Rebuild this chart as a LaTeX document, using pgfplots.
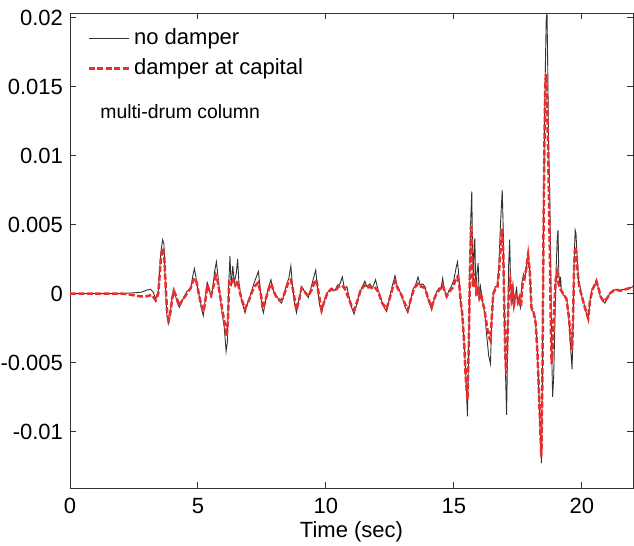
\documentclass[border=0pt]{standalone}
\usepackage{fontspec}
\setmainfont{Liberation Sans}
\usepackage{pgfplots}
\pgfplotsset{compat=1.18}
\usetikzlibrary{calc}

\definecolor{mred}{RGB}{235,45,45}

% no damper
\pgfplotstableread{
t v
0 0
1.0 0
2.0 0
2.5 0.00005
2.8 0.0001
3.0 0.00025
3.15 0.0003
3.25 0.0001
3.35 -0.0004
3.45 0.0002
3.55 0.0030
3.62 0.0039
3.67 0.0036
3.72 0.0010
3.78 -0.0015
3.84 -0.0022
3.9 -0.0018
3.97 -0.0005
4.04 0.0003
4.1 0.0000
4.18 -0.0006
4.27 -0.0010
4.35 -0.0006
4.45 -0.0003
4.55 0.0001
4.65 0.0003
4.72 0.0004
4.8 0.0013
4.86 0.0018
4.92 0.0012
5.0 0.0002
5.08 -0.0004
5.15 -0.0012
5.21 -0.0016
5.28 -0.0005
5.36 0.0008
5.42 0.0005
5.5 -0.0002
5.58 0.0004
5.65 0.0016
5.72 0.0023
5.78 0.0013
5.86 -0.0001
5.95 -0.0015
6.03 -0.0025
6.1 -0.0042
6.15 -0.0035
6.2 0.0005
6.25 0.0027
6.3 0.0005
6.36 0.0020
6.42 0.0008
6.5 0.0015
6.55 0.0025
6.6 0.0008
6.7 -0.0005
6.78 -0.0010
6.84 -0.0014
6.92 -0.0008
7.0 -0.0004
7.1 0.0002
7.2 0.0008
7.28 0.0012
7.36 0.0016
7.42 0.0006
7.5 -0.0010
7.56 -0.0014
7.64 -0.0005
7.75 0.0004
7.85 0.0010
7.93 0.0003
8.02 -0.0001
8.12 -0.0003
8.2 -0.0006
8.27 -0.0007
8.38 0.0001
8.47 0.0007
8.55 0.0011
8.63 0.0020
8.7 0.0004
8.78 -0.0008
8.85 -0.0014
8.93 -0.0006
9.05 0.0005
9.15 0.0002
9.25 -0.0001
9.31 -0.0003
9.4 0.0003
9.5 0.0010
9.6 0.0017
9.66 0.0006
9.75 -0.0008
9.83 -0.0014
9.92 -0.0007
10.03 0.0000
10.12 0.0002
10.22 0.0004
10.35 0.0002
10.45 0.0006
10.55 0.0007
10.64 0.0012
10.72 0.0004
10.82 0.0005
10.92 -0.0004
11.0 -0.0010
11.1 -0.0015
11.2 -0.0008
11.3 0.0000
11.4 0.0004
11.52 0.0009
11.6 0.0005
11.72 0.0007
11.82 0.0004
11.94 0.0010
12.02 0.0004
12.12 -0.0002
12.24 -0.0009
12.37 -0.0013
12.48 -0.0004
12.6 0.0006
12.7 0.0013
12.78 0.0006
12.9 0.0001
13.0 -0.0004
13.1 -0.0010
13.2 -0.0014
13.3 -0.0006
13.4 0.0003
13.5 0.0006
13.6 0.0012
13.68 0.0006
13.78 0.0007
13.87 0.0005
13.96 -0.0002
14.05 -0.0007
14.13 -0.0012
14.22 -0.0005
14.32 0.0001
14.42 0.0004
14.5 0.0003
14.56 0.0011
14.63 0.0003
14.71 -0.0003
14.8 0.0002
14.9 0.0005
15.0 0.0010
15.08 0.0018
15.14 0.0023
15.2 0.0012
15.27 -0.0008
15.32 -0.0016
15.38 -0.0030
15.43 -0.0046
15.49 -0.0070
15.53 -0.0089
15.57 -0.0050
15.62 0.0010
15.66 0.0055
15.7 0.0074
15.73 0.0030
15.76 0.0005
15.79 0.0035
15.82 0.0040
15.86 -0.0002
15.9 0.0015
15.95 0.0022
15.99 -0.0005
16.04 0.0005
16.1 -0.0003
16.16 -0.0010
16.21 -0.0015
16.28 -0.0030
16.36 -0.0045
16.43 -0.0051
16.48 -0.0020
16.54 0.0001
16.62 0.0005
16.7 0.0005
16.76 0.0020
16.82 0.0050
16.89 0.0075
16.93 0.0045
16.97 -0.0009
17.02 -0.0060
17.06 -0.0088
17.1 -0.0040
17.14 0.0020
17.18 0.0039
17.22 0.0005
17.27 -0.0008
17.32 0.0002
17.36 -0.0010
17.4 -0.0003
17.45 0.0005
17.5 -0.0008
17.55 -0.0005
17.6 -0.0010
17.66 0.0008
17.72 0.0014
17.78 0.0010
17.84 0.0020
17.9 0.0029
17.96 0.0018
18.03 -0.0012
18.1 -0.0013
18.16 -0.0016
18.23 -0.0029
18.28 -0.0050
18.33 -0.0077
18.38 -0.0105
18.42 -0.0123
18.46 -0.0060
18.5 0.0044
18.54 0.0120
18.58 0.0170
18.61 0.0200
18.64 0.0203
18.67 0.0160
18.7 0.0110
18.75 0.0068
18.79 0.0010
18.83 -0.0050
18.86 -0.0075
18.9 -0.0060
18.95 -0.0020
19.0 0.0020
19.04 0.0040
19.07 0.0046
19.1 0.0015
19.14 0.0005
19.17 0.0012
19.2 0.0002
19.27 -0.0001
19.35 -0.0002
19.42 -0.0005
19.5 -0.0020
19.57 -0.0042
19.62 -0.0055
19.66 -0.0020
19.7 0.0025
19.74 0.0046
19.77 0.0044
19.82 0.0025
19.88 0.0008
19.93 0.0005
20.0 -0.0002
20.05 -0.0005
20.12 -0.0010
20.2 -0.0016
20.25 -0.0019
20.32 -0.0005
20.4 0.0003
20.5 0.0006
20.57 0.0010
20.64 0.0004
20.72 -0.0002
20.8 -0.0005
20.9 -0.0007
21.0 -0.0003
21.1 0.0000
21.22 0.0002
21.35 0.0003
21.5 0.0002
21.6 0.0003
21.75 0.0003
21.88 0.0004
22.0 0.0005
}\nodamper

% damper at capital
\pgfplotstableread{
t v
0 0
2.0 0
2.4 -0.0001
2.7 -0.0002
3.0 -0.0002
3.2 -0.0001
3.35 -0.0005
3.45 0.0000
3.55 0.0025
3.62 0.0033
3.68 0.0028
3.74 0.0005
3.8 -0.0015
3.86 -0.0019
3.92 -0.0014
4.0 -0.0003
4.06 0.0002
4.15 -0.0002
4.27 -0.0009
4.38 -0.0005
4.5 -0.0002
4.6 0.0001
4.72 0.0004
4.8 0.0009
4.88 0.0011
4.95 0.0008
5.05 -0.0002
5.15 -0.0010
5.22 -0.0013
5.3 -0.0004
5.36 0.0006
5.45 0.0002
5.52 -0.0001
5.6 0.0005
5.7 0.0013
5.76 0.0010
5.86 -0.0001
5.95 -0.0012
6.03 -0.0020
6.12 -0.0031
6.17 -0.0020
6.22 0.0008
6.3 0.0006
6.38 0.0010
6.46 0.0006
6.55 0.0009
6.62 0.0002
6.72 -0.0005
6.84 -0.0011
6.95 -0.0007
7.05 -0.0002
7.15 0.0003
7.25 0.0006
7.36 0.0008
7.45 0.0000
7.55 -0.0011
7.65 -0.0004
7.78 0.0004
7.87 0.0007
7.95 0.0002
8.05 -0.0002
8.2 -0.0005
8.3 -0.0004
8.42 0.0002
8.53 0.0008
8.63 0.0010
8.72 0.0002
8.85 -0.0012
8.95 -0.0005
9.05 0.0004
9.18 0.0001
9.31 -0.0002
9.45 0.0003
9.55 0.0008
9.62 0.0010
9.7 0.0002
9.83 -0.0012
9.95 -0.0005
10.05 0.0000
10.2 0.0003
10.35 0.0002
10.5 0.0005
10.64 0.0006
10.75 0.0003
10.88 -0.0003
11.0 -0.0009
11.1 -0.0012
11.22 -0.0006
11.35 0.0002
11.5 0.0006
11.6 0.0004
11.72 0.0005
11.85 0.0003
11.94 0.0004
12.05 0.0001
12.2 -0.0007
12.37 -0.0011
12.5 -0.0003
12.62 0.0005
12.7 0.0009
12.8 0.0004
12.95 -0.0001
13.1 -0.0008
13.2 -0.0012
13.32 -0.0004
13.45 0.0004
13.6 0.0007
13.72 0.0005
13.87 0.0004
14.0 -0.0004
14.13 -0.0010
14.25 -0.0003
14.35 0.0001
14.45 0.0003
14.56 0.0006
14.64 0.0002
14.72 -0.0002
14.85 0.0002
14.95 0.0004
15.05 0.0009
15.14 0.0012
15.2 0.0008
15.27 -0.0006
15.33 -0.0015
15.4 -0.0035
15.46 -0.0060
15.53 -0.0077
15.58 -0.0040
15.62 0.0010
15.67 0.0049
15.7 0.0040
15.74 0.0005
15.78 0.0015
15.82 0.0008
15.86 0.0010
15.9 -0.0002
15.95 0.0005
16.0 -0.0003
16.06 0.0000
16.12 -0.0006
16.2 -0.0012
16.3 -0.0025
16.38 -0.0032
16.43 -0.0034
16.48 -0.0018
16.54 0.0000
16.62 0.0003
16.7 0.0004
16.78 0.0020
16.85 0.0040
16.89 0.0047
16.93 0.0030
16.97 -0.0010
17.01 -0.0045
17.05 -0.0058
17.1 -0.0030
17.15 0.0005
17.2 0.0010
17.25 -0.0003
17.3 0.0003
17.35 -0.0008
17.42 -0.0002
17.5 -0.0006
17.56 -0.0003
17.62 -0.0010
17.68 0.0006
17.75 0.0012
17.82 0.0017
17.9 0.0028
17.97 0.0015
18.03 -0.0010
18.12 -0.0014
18.2 -0.0022
18.27 -0.0045
18.33 -0.0075
18.38 -0.0100
18.42 -0.0118
18.46 -0.0060
18.5 0.0040
18.54 0.0110
18.57 0.0150
18.6 0.0159
18.63 0.0150
18.66 0.0125
18.7 0.0085
18.75 0.0030
18.79 -0.0025
18.82 -0.0051
18.86 -0.0040
18.92 -0.0010
18.98 0.0010
19.03 0.0015
19.08 0.0008
19.14 0.0004
19.2 0.0002
19.3 -0.0001
19.4 -0.0004
19.5 -0.0018
19.57 -0.0035
19.62 -0.0041
19.66 -0.0015
19.7 0.0020
19.74 0.0034
19.78 0.0030
19.84 0.0015
19.9 0.0005
20.0 -0.0002
20.1 -0.0009
20.2 -0.0015
20.25 -0.0018
20.32 -0.0005
20.42 0.0003
20.57 0.0009
20.65 0.0004
20.75 -0.0003
20.88 -0.0006
21.0 -0.0003
21.1 0.0000
21.3 0.0003
21.5 0.0002
21.7 0.0003
21.88 0.0004
22.0 0.0005
}\withdamper

\begin{document}
\begin{tikzpicture}
\begin{axis}[
    name=ax,
    scale only axis,
    width=281.5pt,
    height=237.25pt,
    xmin=0, xmax=22,
    ymin=-0.0141, ymax=0.0203,
    xtick={0,5,10,15,20},
    ytick={-0.01,-0.005,0,0.005,0.01,0.015,0.02},
    scaled y ticks=false,
    yticklabel style={/pgf/number format/.cd, fixed, precision=3},
    xticklabel style={yshift=-1.5pt},
    /pgf/number format/assume math mode=true,
    tick align=inside,
    major tick length=3pt,
    axis line style={black!80, line width=0.5pt},
    every tick/.style={black!80, line width=0.5pt},
    ticklabel style={font=\fontsize{11}{13}\selectfont},
    label style={font=\fontsize{11}{13}\selectfont},
    xlabel={Time (sec)},
    xlabel style={yshift=3pt},
    legend style={at={(0.02,0.985)}, anchor=north west, draw=none, fill=none,
        font=\fontsize{11}{13}\selectfont, row sep=1.5pt},
    legend cell align=left,
    legend image code/.code={\draw[#1] (0pt,0pt) -- (20pt,0pt);},
]
\addplot[black!80, line width=0.45pt] table {\nodamper};
\addlegendentry{no damper}
\addplot[mred, line width=1.25pt, dash pattern=on 3pt off 1.2pt] table {\withdamper};
\addlegendentry{damper at capital}
\node[anchor=west, font=\fontsize{9.7}{11}\selectfont, inner sep=0pt] at (axis cs:1.17,0.0132) {multi-drum column};
\end{axis}
\pgfresetboundingbox
\path[use as bounding box] ($(ax.south west)+(-35pt,-28.5pt)$) rectangle ($(ax.north east)+(0.5pt,6.75pt)$);
\end{tikzpicture}
\end{document}
